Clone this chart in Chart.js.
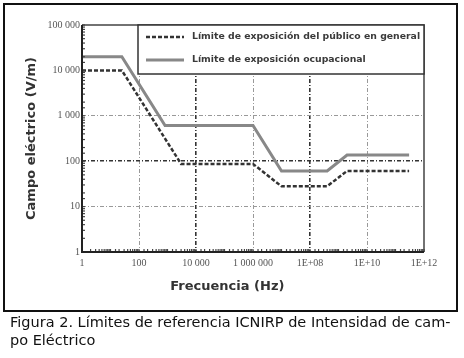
<!DOCTYPE html>
<html>
<head>
<meta charset="utf-8">
<script src="https://cdn.jsdelivr.net/npm/chart.js@4.4.0/dist/chart.umd.min.js"></script>
<style>
  body { margin: 0; background: #fff; }
  #wrap { position: relative; width: 464px; height: 358px; overflow: hidden; }
  #frame { position: absolute; left: 3px; top: 3px; width: 451px; height: 305px; border: 2px solid #111; }
  #graf { position: absolute; left: 0; top: 0; }
  #caption { position: absolute; left: 10px; top: 313px; font-family: "DejaVu Sans", sans-serif;
    font-size: 14.5px; line-height: 18px; color: #111; white-space: nowrap; }
</style>
</head>
<body>
<div id="wrap">
  <div id="frame"></div>
  <canvas id="graf" width="464" height="314"></canvas>
  <div id="caption">Figura 2. Límites de referencia ICNIRP de Intensidad de cam-<br>po Eléctrico</div>
</div>
<script>
// frecuencias (Hz) y limites de campo (V/m)
var freqPublico = [1, 25, 3000, 1e6, 1e7, 4e8, 2e9, 3e11];
var campoPublico = [10000, 10000, 87, 87, 28, 28, 61, 61];
var freqOcupacional = [1, 25, 820, 1e6, 1e7, 4e8, 2e9, 3e11];
var campoOcupacional = [20000, 20000, 610, 610, 61, 61, 137, 137];

var seriesNames = ['Límite de exposición del público en general', 'Límite de exposición ocupacional'];

var xTickValues = [1, 100, 1e4, 1e6, 1e8, 1e10, 1e12];
var xTickLabels = ['1', '100', '10 000', '1 000 000', '1E+08', '1E+10', '1E+12'];
var yTickValues = [1, 10, 100, 1000, 10000, 100000];
var yTickLabels = ['1', '10', '100', '1 000', '10 000', '100 000'];

// rejilla
var xGridHeavy = [1e4, 1e8];
var xGridLight = [100, 1e6, 1e10];
var yGridHeavy = [100];
var yGridLight = [10, 1000];

function same(a, b) { return Math.abs(Math.log10(a) - Math.log10(b)) < 1e-6; }
function inList(v, list) { return list.some(function (t) { return same(v, t); }); }
function labelFor(v, vals, labels) {
    for (var i = 0; i < vals.length; i++) { if (same(v, vals[i])) return labels[i]; }
    return '';
}
function toPoints(xs, ys) { return xs.map(function (x, i) { return { x: x, y: ys[i] }; }); }

function gridColor(heavy, light) {
    return function (ctx) {
        if (!ctx.tick) return 'rgba(0,0,0,0)';
        if (inList(ctx.tick.value, heavy)) return '#333';
        if (inList(ctx.tick.value, light)) return '#999';
        return 'rgba(0,0,0,0)';
    };
}
function gridWidth(heavy, light) {
    return function (ctx) {
        if (!ctx.tick) return 0;
        if (inList(ctx.tick.value, heavy)) return 1.6;
        if (inList(ctx.tick.value, light)) return 1;
        return 0;
    };
}

var tickFont = { family: '"Liberation Serif", serif', size: 10 };

// marco, marcas menores, titulo x y leyenda
var decorPlugin = {
    id: 'decor',
    afterDatasetsDraw: function (chart) {
        var ctx = chart.ctx, a = chart.chartArea;
        var xs = chart.scales.x, ys = chart.scales.y;
        ctx.save();
        // marcas menores
        ctx.strokeStyle = '#444';
        ctx.lineWidth = 1.2;
        xs.ticks.forEach(function (t) {
            var px = xs.getPixelForValue(t.value);
            ctx.beginPath(); ctx.moveTo(px, a.bottom); ctx.lineTo(px, a.bottom - 3); ctx.stroke();
        });
        ys.ticks.forEach(function (t) {
            var py = ys.getPixelForValue(t.value);
            ctx.beginPath(); ctx.moveTo(a.left, py); ctx.lineTo(a.left + 3, py); ctx.stroke();
        });
        // borde superior y derecho
        ctx.strokeStyle = '#444';
        ctx.lineWidth = 1.5;
        ctx.beginPath();
        ctx.moveTo(a.left, a.top); ctx.lineTo(a.right, a.top); ctx.lineTo(a.right, a.bottom);
        ctx.stroke();
        // ejes
        ctx.strokeStyle = '#222';
        ctx.lineWidth = 2;
        ctx.beginPath();
        ctx.moveTo(a.left, a.top); ctx.lineTo(a.left, a.bottom); ctx.lineTo(a.right, a.bottom);
        ctx.stroke();

        // leyenda
        var bw = 286, bh = 49, bx = a.right - bw, by = a.top;
        ctx.fillStyle = '#fff';
        ctx.fillRect(bx, by, bw, bh);
        ctx.strokeStyle = '#333';
        ctx.lineWidth = 1.5;
        ctx.strokeRect(bx, by, bw, bh);
        ctx.font = 'bold 9.3px "DejaVu Sans", sans-serif';
        ctx.textBaseline = 'middle';
        chart.data.datasets.forEach(function (ds, i) {
            var ly = by + 12 + i * 23;
            ctx.strokeStyle = ds.borderColor;
            ctx.lineWidth = ds.borderWidth;
            ctx.setLineDash(ds.borderDash || []);
            ctx.beginPath(); ctx.moveTo(bx + 8, ly); ctx.lineTo(bx + 46, ly); ctx.stroke();
            ctx.setLineDash([]);
            ctx.fillStyle = '#3a3a3a';
            ctx.fillText(ds.label, bx + 54, ly);
        });

        // titulo eje x
        ctx.fillStyle = '#333';
        ctx.font = 'bold 13px "DejaVu Sans", sans-serif';
        ctx.textAlign = 'center';
        ctx.fillText('Frecuencia (Hz)', a.left + (a.right - a.left) * 0.425, a.bottom + 35);
        ctx.restore();
    }
};

new Chart(document.getElementById('graf'), {
    type: 'scatter',
    data: {
        datasets: [
            {
                label: seriesNames[0],
                data: toPoints(freqPublico, campoPublico),
                showLine: true,
                borderColor: '#333',
                borderWidth: 2.5,
                borderDash: [4, 2],
                pointRadius: 0,
                fill: false
            },
            {
                label: seriesNames[1],
                data: toPoints(freqOcupacional, campoOcupacional),
                showLine: true,
                borderColor: '#888',
                borderWidth: 3,
                pointRadius: 0,
                fill: false
            }
        ]
    },
    options: {
        responsive: false,
        animation: false,
        layout: { padding: { top: 25, right: 40, left: 0, bottom: 0 } },
        plugins: { legend: { display: false }, tooltip: { enabled: false } },
        scales: {
            x: {
                type: 'logarithmic',
                min: 1,
                max: 1e12,
                afterFit: function (s) { s.height = 62; },
                grid: { color: gridColor(xGridHeavy, xGridLight), lineWidth: gridWidth(xGridHeavy, xGridLight), drawTicks: false },
                border: { display: false, dash: function (ctx) { return ctx.tick ? [4, 2, 1, 2] : []; } },
                ticks: {
                    autoSkip: false,
                    maxRotation: 0,
                    padding: 5,
                    color: '#555',
                    font: tickFont,
                    callback: function (v) { return labelFor(v, xTickValues, xTickLabels); }
                }
            },
            y: {
                type: 'logarithmic',
                min: 1,
                max: 100000,
                afterFit: function (s) { s.width = 82; },
                grid: { color: gridColor(yGridHeavy, yGridLight), lineWidth: gridWidth(yGridHeavy, yGridLight), drawTicks: false },
                border: { display: false, dash: function (ctx) { return ctx.tick ? [4, 2, 1, 2] : []; } },
                title: {
                    display: true,
                    text: 'Campo eléctrico (V/m)',
                    color: '#333',
                    font: { family: '"DejaVu Sans", sans-serif', size: 13, weight: 'bold' },
                    padding: { top: 24, bottom: 0 }
                },
                ticks: {
                    autoSkip: false,
                    padding: 2,
                    color: '#555',
                    font: tickFont,
                    callback: function (v) { return labelFor(v, yTickValues, yTickLabels); }
                }
            }
        }
    },
    plugins: [decorPlugin]
});
</script>
</body>
</html>
